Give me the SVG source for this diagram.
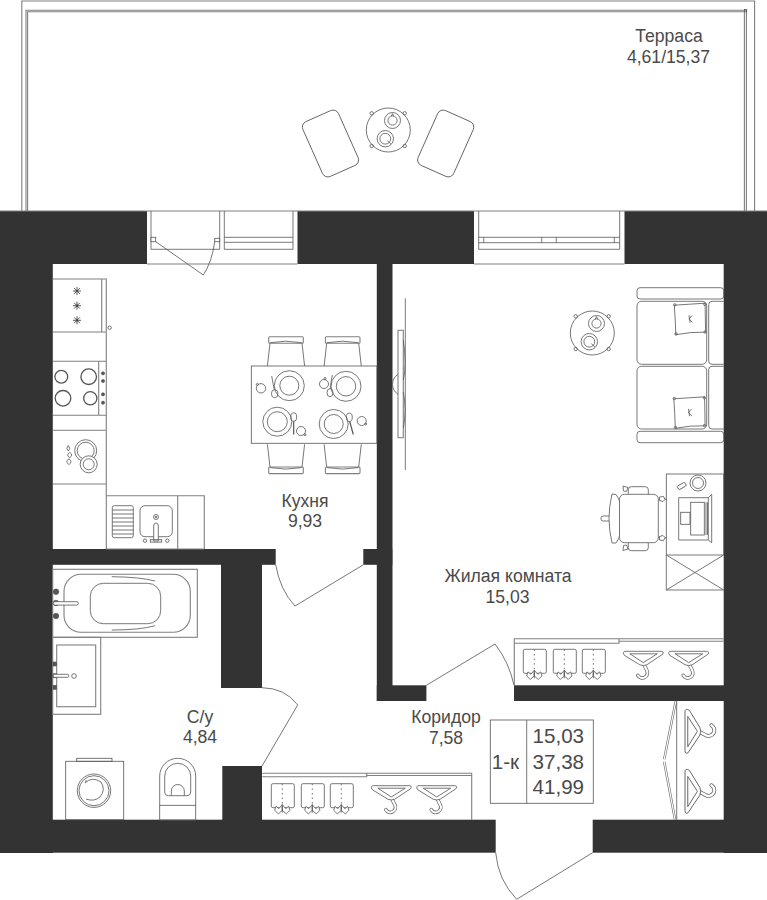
<svg xmlns="http://www.w3.org/2000/svg" xmlns:xlink="http://www.w3.org/1999/xlink" width="767" height="900" viewBox="0 0 767 900">
<style>
text{font-family:"Liberation Sans",Arial,sans-serif;font-size:17.6px;fill:#4a4a4a;text-anchor:middle}
.t{font-size:20.6px;text-anchor:start}
.w{fill:#333}
.l{fill:none;stroke:#5e5e5e;stroke-width:.85}
.g{fill:none;stroke:#808080;stroke-width:1.1}
.b{fill:#fff;stroke:#5e5e5e;stroke-width:.85}
.d{fill:#555;stroke:#555;stroke-width:.6}
.ho{fill:none;stroke:#6a6a6a;stroke-width:3.6;stroke-linejoin:round;stroke-linecap:round}
.hi{fill:none;stroke:#fff;stroke-width:2.1;stroke-linejoin:round;stroke-linecap:round}
</style>
<defs>
<g id="table">
<circle class="l" r="22"/>
<circle class="l" cx="-16.6" cy="-16.7" r="1.7"/><circle class="l" cx="16.4" cy="-16.7" r="1.7"/><circle class="l" cx="-16.6" cy="16" r="1.7"/><circle class="l" cx="16.4" cy="16" r="1.7"/>
<circle class="l" cx="4.2" cy="-9.5" r="8"/><circle class="l" cx="4.2" cy="-9.5" r="4.6"/><path class="l" d="M3 -13.8l1.2-2.6 1.2 2.6"/>
<circle class="l" cx="-3" cy="8.7" r="8.2"/><circle class="l" cx="-3" cy="8.7" r="5.4"/><path class="l" d="M-1 10.5l3.6 3.6"/>
</g>
<g id="garment">
<rect class="l" width="23" height="24" rx="1.6"/>
<path class="l" d="M11 0V24" stroke-dasharray="1.6 3"/>
<path class="b" d="M11 21l-3.5 4 -2.8-2.4 -1.3 4 3.6 3.6 4-3.6zM11 21l3.5 4 2.8-2.4 1.3 4 -3.6 3.6 -4-3.6z"/>
<path class="l" d="M11 23V29"/>
</g>
<g id="hanger">
<path class="ho" d="M20 12L23.500 19A5 5 0 1 1 14.500 24"/>
<path class="hi" d="M20 12L23.500 19A5 5 0 1 1 14.500 24"/>
<path class="b" d="M2.500 0H37.500Q41 0 39.500 2.800L23.500 13.500Q20 15 16.500 13.500L1 4Q-1.500 0 2.500 0Z"/>
<path class="l" d="M6.500 2.500H34L20 11.300Z"/>
</g>
<g id="hangset">
<use xlink:href="#garment" x="523.3" y="649.3"/><use xlink:href="#garment" x="553.3" y="649.3"/><use xlink:href="#garment" x="582.3" y="649.3"/>
<use xlink:href="#hanger" x="623.3" y="651.3"/><use xlink:href="#hanger" x="668.7" y="651.3"/>
</g>
<g id="chair">
<rect class="g" x="0" y="0" width="34.6" height="6.6" rx="1"/>
<path class="l" d="M-1.3 29.3L1.3 6.6M35.9 29.3L33.3 6.6"/>
<path class="l" d="M1.5 6Q17 3 33 6"/>
</g>
<g id="pillow">
<path class="l" d="M-15.5-13.5Q0-14.5 15.3-15.5L15.8 13.5Q1 13 -14 16Q-14.4 1 -15.5-13.5Z"/>
<circle class="l" cx="-15" cy="-13.8" r="1.2"/><circle class="l" cx="15" cy="-14.5" r="1.2"/><circle class="l" cx="15.2" cy="13.3" r="1.2"/><circle class="l" cx="-13.8" cy="15.2" r="1.2"/>
<path class="l" d="M-.8-3.5L.3 4M-1 .5L2.2-3.2M-.8 .5L2.6 3.6"/>
</g>
<g id="flake">
<path stroke="#444" stroke-width=".9" d="M-4 0H4M0-4V4M-2.9-2.9L2.9 2.9M-2.9 2.9L2.9-2.9"/><circle r="1.1" fill="#444"/>
</g>
</defs>

<g id="terrace">
<path class="g" d="M21.8 211V1H754.6V211" stroke-width="1.4"/>
<path class="g" d="M26 211V10.2H746.4V211M27.6 211V11.8H744.4V211"/>
<rect class="l" x="744.5" y="9.5" width="2.2" height="2.4"/>
<rect class="b" x="311" y="113.5" width="39" height="60" rx="6" transform="rotate(-24 330.5 143.5)"/>
<rect class="b" x="426.2" y="113.5" width="39" height="60" rx="6" transform="rotate(24 445.7 143.5)"/>
<use xlink:href="#table" x="388.3" y="130"/>
<text x="669" y="41.7">Терраса</text>
<text x="668.500" y="62.5">4,61/15,37</text>
</g>

<g id="walls">
<rect class="w" x="0" y="211" width="147" height="53"/>
<rect class="w" x="297.5" y="211" width="176.5" height="53"/>
<rect class="w" x="624.5" y="211" width="142.5" height="53"/>
<rect class="w" x="0" y="211" width="52.8" height="642"/>
<rect class="w" x="723.7" y="211" width="43.3" height="642"/>
<rect class="w" x="376.8" y="264" width="15.7" height="437"/>
<rect class="w" x="376.8" y="685.3" width="49.6" height="15.7"/>
<rect class="w" x="514" y="685.3" width="253" height="15.7"/>
<rect class="w" x="0" y="549" width="275.7" height="15.8"/>
<rect class="w" x="363.3" y="549" width="29" height="15.8"/>
<rect class="w" x="221" y="549" width="41" height="139"/>
<rect class="w" x="222.3" y="766" width="39.7" height="60"/>
<rect class="w" x="0" y="819.7" width="495.7" height="33"/>
<rect class="w" x="592.7" y="819.7" width="174.3" height="33"/>
</g>

<g id="windows">
<path class="g" d="M0 211H767"/>
<path class="g" d="M147 264H297.5M474 264H624.5"/>
<path class="l" d="M151 211V249.3H219.7V211M224.3 211V249.3H293V211M224.3 237.3H293M224.3 242.3H293"/>
<rect class="b" x="151" y="237.3" width="4.7" height="4.4"/>
<rect class="b" x="214.7" y="238.3" width="5" height="3.4"/>
<path class="l" d="M155.7 241.7L203.3 275Q212 262 214.7 241.7"/>
<path class="l" d="M478.7 211V249.3H619.7V211M478.7 237.3H619.7M478.7 242.7H619.7M483.7 237.3V242.7M541.7 237.3V242.7M556.3 237.3V242.7M614.3 237.3V242.7"/>
</g>

<g id="doors">
<path class="l" d="M275.7 564.8Q280 590 295 606L363.3 564.8"/>
<path class="l" d="M262 687.7Q285 688 297.7 705L262 766"/>
<path class="l" d="M426.4 685.3L495 644Q509 662 514 685.3"/>
<path class="l" d="M495.7 852.7Q498 880 516.7 899.3L592.7 852.7"/>
</g>

<g id="kitchen">
<path class="g" d="M53 279H106.3V549M53 332H106.3M53 361.3H106.3M53 415.3H106.3M53 430.3H106.3M53 484H106.3M106.3 495.7H204.3V549M177.7 495.7V549M101.7 279V332M98.7 361.3V415.3M106 549H204"/>
<circle class="l" cx="109.7" cy="327.7" r="1.7"/>
<use xlink:href="#flake" x="77" y="291"/><use xlink:href="#flake" x="77" y="305.7"/><use xlink:href="#flake" x="77" y="320.3"/>
<g fill="none" stroke="#555" stroke-width="1.3"><circle cx="61.3" cy="376.7" r="6.4"/><circle cx="88.7" cy="376.7" r="7.8"/><circle cx="63" cy="398.3" r="7.8"/><circle cx="90.3" cy="398.3" r="6.6"/></g>
<circle class="d" cx="103" cy="373.3" r="1.6"/><circle class="d" cx="103" cy="381" r="1.6"/><circle class="d" cx="103" cy="394.3" r="1.6"/><circle class="d" cx="103" cy="402.7" r="1.6"/>
<path class="l" d="M68.3 445.5q-3 3 0 5.5q3-2.5 0-5.5zM69.7 452.3q-4 2.8 0 5.4q4-2.6 0-5.4zM69 458.8q-4.5 3 0 5.7q4-2.7 0-5.7z"/>
<circle class="l" cx="85.7" cy="450.7" r="11"/><circle class="l" cx="85.7" cy="450.7" r="8.5"/>
<circle class="b" cx="88.7" cy="464.3" r="8.5"/><circle class="l" cx="88.7" cy="464.3" r="5.5"/>
<rect class="l" x="112.3" y="505.7" width="21" height="32" rx="2"/>
<path class="l" d="M112.3 510H133.3M112.3 514H133.3M112.3 518H133.3M112.3 522H133.3M112.3 526H133.3M112.3 530H133.3M112.3 534H133.3"/>
<rect class="l" x="140" y="505.7" width="32.3" height="31" rx="5"/>
<circle class="l" cx="156" cy="517" r="2.5"/><circle class="d" cx="156" cy="517" r=".8"/>
<path class="b" d="M153.7 541V526q0-3 2.3-3t2.3 3V541z"/>
<rect class="l" x="150.3" y="539.7" width="11.4" height="2.4"/>
<circle class="l" cx="145" cy="540.7" r="1.7"/><circle class="l" cx="167.3" cy="540.7" r="1.7"/>
<use xlink:href="#chair" x="268.7" y="336.7"/><use xlink:href="#chair" x="325.4" y="336.7"/>
<use xlink:href="#chair" transform="translate(268.7 473.6) scale(1 -1)"/><use xlink:href="#chair" transform="translate(325.4 473.6) scale(1 -1)"/>
<rect class="b" x="251.3" y="366" width="125.5" height="77.3"/>
<circle class="l" cx="289.3" cy="385.7" r="15"/><circle class="l" cx="289.3" cy="385.7" r="9.5"/>
<path class="l" d="M271.7 376L274.3 390"/><ellipse class="l" cx="274.7" cy="393.7" rx="3.3" ry="4"/>
<circle class="l" cx="261" cy="388.3" r="4.7"/><circle class="l" cx="257.3" cy="384.5" r="1"/>
<circle class="l" cx="346" cy="386.3" r="15"/><circle class="l" cx="346" cy="386.3" r="9.7"/>
<path class="l" d="M332.3 375L330 389"/><ellipse class="l" cx="330" cy="392.7" rx="3" ry="4"/>
<circle class="l" cx="324" cy="384" r="4.5"/><circle class="l" cx="325" cy="378.5" r="1"/>
<circle class="l" cx="277.3" cy="421.7" r="14.5"/><circle class="l" cx="277.3" cy="421.7" r="10"/>
<ellipse class="l" cx="293.7" cy="417" rx="3" ry="4.2"/><path stroke="#555" stroke-width="1.2" d="M293.7 421.5V434.5"/>
<circle class="l" cx="301" cy="431" r="4.5"/><circle class="l" cx="305" cy="434.7" r="1"/>
<circle class="l" cx="333.7" cy="424" r="14.5"/><circle class="l" cx="333.7" cy="424" r="9.5"/>
<ellipse class="l" cx="349.3" cy="417.3" rx="3" ry="4.2"/><path stroke="#555" stroke-width="1.2" d="M349.7 421.5L353.3 434.5"/>
<circle class="l" cx="361.7" cy="421" r="4.5"/><circle class="l" cx="365.7" cy="424" r="1"/>
<text x="305" y="506.7">Кухня</text>
<text x="305" y="527.3">9,93</text>
</g>

<g id="living">
<path class="l" d="M405.3 298.3V470"/>
<rect class="g" x="398" y="330.3" width="5.3" height="107.4"/>
<path class="l" d="M403.3 340Q407 365 403.3 380M403.3 392Q407 410 403.3 428"/>
<path class="l" d="M398 374.3Q392.5 378 392.5 384.3T398 394.3"/>
<use xlink:href="#table" x="592.3" y="333"/>
<rect class="l" x="637" y="287.7" width="86.7" height="11.3" rx="3"/>
<rect class="l" x="637" y="301.3" width="69.7" height="63" rx="4.5"/>
<path class="l" d="M723.7 301.3H712q-3.3 0-3.3 3.3V361q0 3.3 3.3 3.3H723.7"/>
<rect class="l" x="637" y="366.3" width="69.7" height="62.7" rx="4.5"/>
<path class="l" d="M723.7 366.3H712q-3.3 0-3.3 3.3V425.7q0 3.3 3.3 3.3H723.7"/>
<rect class="l" x="637" y="431.3" width="86.7" height="11.4" rx="3"/>
<use xlink:href="#pillow" x="689.8" y="318.7"/><use xlink:href="#pillow" x="689.3" y="412.3"/>
<rect class="l" x="666.3" y="474" width="57.4" height="81"/>
<path class="l" d="M666.3 555V590H723.7M666.3 555L723.7 590M666.3 590L723.7 555"/>
<circle class="l" cx="698" cy="483" r="8"/><circle class="l" cx="698" cy="483" r="5.5"/>
<rect class="l" x="677.5" y="484" width="8.5" height="4" rx=".8" transform="rotate(-30 681.7 486)"/>
<path class="l" d="M678.7 497.7H708.3L711.7 494.3V542.7L708.3 540H678.7ZM708.3 497.7V540"/>
<rect class="l" x="690.7" y="502.3" width="13.6" height="32.7"/>
<rect class="l" x="680.7" y="512.3" width="9.3" height="12"/>
<path class="l" d="M706 502.3V535M707.5 502.3V535"/>
<rect class="l" x="628.3" y="486.7" width="20" height="10" rx="3"/>
<rect class="l" x="628.3" y="540.7" width="20" height="10" rx="3"/>
<rect class="l" x="601" y="516" width="10.7" height="5" rx="2"/>
<path class="b" d="M612 494L616 494.5Q622 502 622 518.5T616 543L612 543Q609 530 609 518.5T612 494Z"/>
<rect class="b" x="619.5" y="494.3" width="38.8" height="48.4" rx="5"/>
<path class="l" d="M658.3 500L666.3 499M658.3 537L666.3 538"/>
<path class="b" d="M623 486l5 1.5-1.5 4-3-.5zM623 550.5l5-1.5-1.5-4-3 .5zM659.5 497l4-.5 1.5 3-2 2-3.5-1zM659.5 540l4 .5 1.5-3-2-2-3.5 1z"/>
<text x="508" y="582.3">Жилая комната</text>
<text x="507.5" y="603">15,03</text>
</g>

<g id="wardrobe-room">
<path class="g" d="M514.3 685.3V638.7H723.7M514.3 643.3H619V638.7M619 641.2H723.7"/>
<use xlink:href="#hangset"/>
</g>

<g id="wardrobe-hall">
<path class="g" d="M262.3 773.3H471.7V820M262.3 776.7H366.7V773.3M366.7 775.5H471.7"/>
<use xlink:href="#hangset" transform="translate(-252 134.4)"/>
</g>

<g id="wardrobe-right">
<path class="l" d="M676.7 701V820"/>
<path class="ho" style="stroke-width:2.4;stroke-linecap:butt" d="M675.7 701.5L664.2 759.3M664.2 761.7L675 819.5"/>
<path class="hi" style="stroke-width:1.2;stroke-linecap:butt" d="M675.7 701.5L664.2 759.3M664.2 761.7L675 819.5"/>
<use xlink:href="#hanger" transform="matrix(0 1.1 1.1 0 685 709.3)"/>
<use xlink:href="#hanger" transform="matrix(0 1.1 1.1 0 685 769.3)"/>
</g>

<g id="bathroom">
<rect class="g" x="52.7" y="569.3" width="144.6" height="68"/>
<rect class="g" x="64" y="574.3" width="126.3" height="58" rx="17"/>
<rect class="l" x="90.3" y="583.3" width="70.4" height="40.4" rx="13"/>
<path class="l" d="M111.7 576.7Q140 577 155 581M111.7 630Q140 630 155 625.7"/>
<g class="d"><circle cx="56" cy="591.7" r="2.8"/><circle cx="56" cy="603" r="2.8"/><circle cx="56" cy="616" r="2.8"/></g>
<rect class="b" x="53.3" y="601.7" width="25" height="3.4" rx="1.6"/>
<rect class="g" x="52.7" y="637.3" width="48" height="77"/>
<rect class="g" x="56.7" y="645" width="39" height="61.7"/>
<g class="d"><rect x="53" y="662" width="3.6" height="4"/><rect x="53" y="685.3" width="3.6" height="4"/><rect x="53" y="673.8" width="3.6" height="4"/></g>
<rect class="b" x="53.3" y="674.3" width="15.4" height="3" rx="1"/>
<circle class="l" cx="74" cy="676" r="2.3"/>
<rect class="l" x="65.7" y="761.3" width="58" height="58.4"/>
<rect class="l" x="76.7" y="758.3" width="35.3" height="3"/>
<circle class="l" cx="94" cy="790.7" r="16.7"/><circle class="l" cx="94" cy="790.7" r="15"/>
<path class="l" d="M85 783Q92 776 101 782Q106 790 100 797Q94 802 86 799M85 783l1.5-3"/>
<path class="l" d="M159.7 805.3V776a18 17.7 0 0 1 36 0V805.3"/>
<rect class="l" x="159.7" y="805.3" width="36" height="14.7"/>
<path class="l" d="M164.7 792V776a13 12.7 0 0 1 26 0V792q0 3.7-3.7 3.7H168.4q-3.7 0-3.7-3.7Z"/>
<path class="l" d="M171.3 795.7V791a6.5 6.5 0 0 1 13 0V795.7"/>
<text x="200" y="722.7">С/у</text>
<text x="200" y="743.3">4,84</text>
</g>

<g id="corridor">
<text x="446" y="723">Коридор</text>
<text x="446" y="743.7">7,58</text>
</g>

<g id="summary">
<rect class="l" x="490.3" y="720" width="103" height="83.3"/>
<path class="l" d="M526.7 720V803.3"/>
<text class="t" x="491.8" y="769">1-к</text>
<text class="t" x="532.5" y="743.3">15,03</text>
<text class="t" x="532.5" y="769">37,38</text>
<text class="t" x="532.5" y="794.3">41,99</text>
</g>
</svg>
